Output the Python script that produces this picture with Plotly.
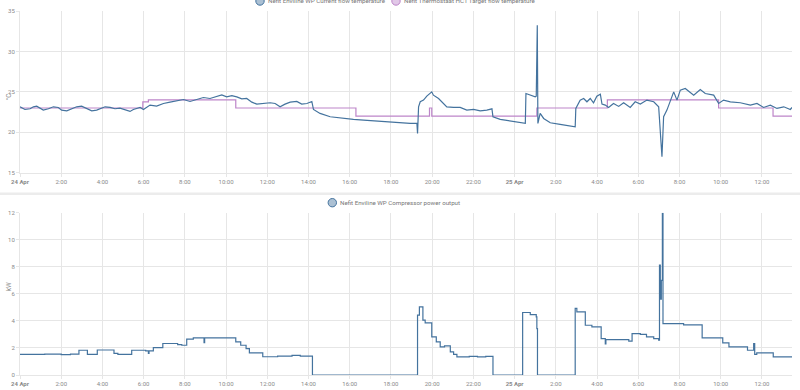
import plotly.graph_objects as go

# ---- data (hours since 24 Apr 00:00) ----
temp_hours = [0, 0.24, 0.49, 0.65, 0.81, 0.97, 1.13, 1.38, 1.62, 1.86,
              2.02, 2.27, 2.51, 2.75, 2.99, 3.24, 3.48, 3.72, 3.96, 4.13,
              4.37, 4.61, 4.85, 5.10, 5.34, 5.50, 5.66, 5.83, 5.99,
              6.31, 6.63, 6.96, 7.28, 7.61, 7.93, 8.25, 8.58, 8.90, 9.22,
              9.55, 9.79, 10.03, 10.28, 10.52, 10.76, 11.00, 11.25, 11.49, 11.81,
              12.14, 12.38, 12.62, 12.86, 13.11, 13.43, 13.67, 13.92, 14.16, 14.24,
              14.56, 15.05, 15.53, 16.18, 16.67, 17.15, 17.80, 18.28,
              18.93, 19.26, 19.29, 19.34, 19.42, 19.58, 19.74, 19.98, 20.06, 20.31,
              20.55, 20.71, 21.04, 21.36, 21.68, 22.01, 22.33, 22.65, 22.90, 22.95,
              23.30, 23.79, 24.27, 24.52, 24.55, 24.76, 25.00, 25.05, 25.10, 25.13,
              25.24, 25.41, 25.73, 26.21, 26.94, 26.97, 27.18, 27.35, 27.51, 27.67,
              27.83, 27.99, 28.16, 28.24, 28.40, 28.56, 28.80, 29.05, 29.29, 29.61,
              29.85, 30.10, 30.42, 30.75, 30.99, 31.15, 31.23, 31.39, 31.55, 31.72,
              31.88, 32.04, 32.28, 32.52, 32.69, 33.01, 33.25, 33.66, 33.90, 34.14,
              34.47, 34.95, 35.44, 35.76, 36.08, 36.41, 36.73, 37.06, 37.38, 37.46]
temp_values = [23.15, 22.82, 22.91, 23.15, 23.23, 22.95, 22.74, 22.91, 23.15, 23.07,
               22.74, 22.66, 22.91, 23.15, 23.23, 22.95, 22.66, 22.74, 22.95, 23.15,
               23.07, 22.91, 22.99, 22.74, 22.58, 22.82, 22.95, 23.07, 22.82,
               23.36, 23.23, 23.56, 23.73, 23.89, 24.05, 23.81, 24.05, 24.30, 24.18,
               24.46, 24.63, 24.38, 24.54, 24.38, 24.13, 24.18, 23.73, 23.48, 23.56,
               23.65, 23.56, 23.15, 23.48, 23.73, 23.81, 23.48, 23.56, 23.81, 22.82,
               22.33, 21.92, 21.75, 21.59, 21.51, 21.42, 21.26, 21.18,
               21.10, 21.10, 19.86, 23.15, 23.77, 23.98, 24.47, 25.00, 24.59, 24.18,
               23.56, 23.15, 23.07, 23.07, 22.74, 22.82, 22.66, 22.74, 22.90, 21.92,
               21.59, 21.38, 21.18, 21.10, 24.80, 24.59, 24.39, 24.47, 33.23, 21.10,
               22.33, 21.71, 21.18, 20.97, 20.68, 22.95, 23.98, 24.18, 23.77, 24.18,
               23.65, 24.47, 24.72, 23.50, 23.36, 23.07, 23.56, 23.20, 23.65, 23.07,
               23.77, 23.50, 23.98, 23.77, 23.15, 16.98, 21.92, 22.74, 23.77, 25.00,
               23.98, 25.21, 25.42, 25.00, 24.59, 25.29, 24.80, 24.59, 23.56, 23.98,
               23.77, 23.65, 23.36, 23.56, 23.07, 23.36, 22.95, 23.15, 22.82, 23.07]

target_hours = [0, 5.96, 6.23, 10.47, 16.30, 19.87, 19.98, 25.08, 28.50, 33.90, 36.54, 37.46]
target_values = [23.0, 23.77, 24.0, 23.0, 22.0, 23.0, 22.0, 23.0, 24.0, 23.0, 22.0, 22.0]

power_hours = [0, 1.20, 2.00, 2.45, 2.86, 3.27, 3.75, 4.56, 4.75, 5.42,
               6.10, 6.23, 6.26, 6.47, 6.93, 7.65, 7.85, 8.09, 8.41, 8.93,
               8.96, 9.19, 10.47, 10.71, 10.97, 11.13, 11.78, 12.50, 13.20, 13.60,
               14.19, 19.29, 19.38, 19.55, 19.66, 19.98, 20.20, 20.39, 20.60, 20.88,
               21.04, 21.20, 21.80, 22.20, 22.60, 22.95, 24.39, 24.76, 25.05, 25.08,
               25.11, 26.94, 27.02, 27.43, 27.75, 28.20, 28.40, 28.43, 28.90, 29.54,
               29.70, 30.10, 30.40, 30.75, 30.99, 31.03, 31.07, 31.12, 31.17, 31.20,
               32.20, 33.10, 34.10, 34.40, 35.30, 35.60, 35.65, 35.75, 36.55, 37.46]
power_values = [1.52, 1.55, 1.50, 1.55, 1.83, 1.53, 1.85, 1.60, 1.52, 1.83,
                1.78, 1.60, 1.78, 2.03, 2.33, 2.25, 2.20, 2.65, 2.74, 2.40,
                2.74, 2.74, 2.45, 2.20, 1.95, 1.63, 1.35, 1.40, 1.45, 1.40,
                0.0, 4.42, 5.04, 4.05, 3.85, 2.82, 2.45, 2.08, 2.15, 1.71,
                1.53, 1.34, 1.38, 1.34, 1.38, 0.0, 4.62, 4.47, 4.30, 3.43,
                0.0, 4.92, 4.67, 3.68, 3.56, 2.69, 2.30, 2.62, 2.62, 2.50,
                3.06, 3.00, 2.82, 2.69, 2.57, 8.13, 5.60, 7.00, 11.95, 3.80,
                3.70, 2.74, 2.37, 2.08, 1.83, 2.32, 1.53, 1.63, 1.34, 1.36]

tick_hours = list(range(0, 37, 2))
tick_labels = ["<b>24 Apr</b>", "2:00", "4:00", "6:00", "8:00", "10:00", "12:00",
               "14:00", "16:00", "18:00", "20:00", "22:00", "<b>25 Apr</b>",
               "2:00", "4:00", "6:00", "8:00", "10:00", "12:00"]

temp_name = "Nefit Enviline WP Current flow temperature"
target_name = "Nefit Thermostaat HC1 Target flow temperature"
power_name = "Nefit Enviline WP Compressor power output"

BLUE = "#44739e"
PURPLE = "#bd85c9"
GRID = "#e6e6e6"
TICKC = "#8a8a8a"
FONT = "Roboto"

W, H = 800, 390
ML, MR, MT, MB = 20, 8, 11, 15
PW, PH = W - ML - MR, H - MT - MB


def px(xp):
    return (xp - ML) / PW


def py(yp):
    return (H - MB - yp) / PH


fig = go.Figure()
fig.add_trace(go.Scatter(x=target_hours, y=target_values, mode="lines",
                         line=dict(color=PURPLE, width=1.2, shape="hv"),
                         xaxis="x", yaxis="y", showlegend=False, name=target_name))
fig.add_trace(go.Scatter(x=temp_hours, y=temp_values, mode="lines",
                         line=dict(color=BLUE, width=1.2),
                         xaxis="x", yaxis="y", showlegend=False, name=temp_name))
fig.add_trace(go.Scatter(x=power_hours, y=power_values, mode="lines",
                         line=dict(color=BLUE, width=1.2, shape="hv"),
                         xaxis="x2", yaxis="y2", showlegend=False, name=power_name))

xcommon = dict(range=[0, 37.46], tickmode="array", tickvals=tick_hours, ticktext=tick_labels,
               showgrid=True, gridcolor=GRID, gridwidth=1, zeroline=False, automargin=False,
               showline=True, linecolor=GRID, ticks="outside", ticklen=3, tickcolor=GRID,
               tickfont=dict(family=FONT, size=6, color=TICKC))
ycommon = dict(showgrid=True, gridcolor=GRID, gridwidth=1, zeroline=False, automargin=False,
               showline=True, linecolor=GRID, ticks="outside", ticklen=3, tickcolor=GRID,
               tickfont=dict(family=FONT, size=6, color=TICKC))

fig.update_layout(
    template="none",
    width=W, height=H,
    margin=dict(l=ML, r=MR, t=MT, b=MB, autoexpand=False),
    paper_bgcolor="white", plot_bgcolor="white",
    font=dict(family=FONT, color="#777"),
    showlegend=False,
    xaxis=dict(domain=[0, 1], anchor="y", **xcommon),
    yaxis=dict(domain=[py(172.7), 1], anchor="x", range=[15, 35], dtick=5, **ycommon),
    xaxis2=dict(domain=[0, 1], anchor="y2", **xcommon),
    yaxis2=dict(domain=[0, py(212.7)], anchor="x2", range=[0, 12], dtick=2, **ycommon),
)

# card separator band
fig.add_shape(type="rect", xref="paper", yref="paper", x0=px(0), x1=px(800),
              y0=py(195), y1=py(192.5), fillcolor="#ececec", line_width=0, layer="below")

# legends drawn as circles + text
def legend_item(cx, cy, color, fill, text):
    r = 4.2
    fig.add_shape(type="circle", xref="paper", yref="paper",
                  x0=px(cx - r), x1=px(cx + r), y0=py(cy + r), y1=py(cy - r),
                  fillcolor=fill, line=dict(color=color, width=1))
    fig.add_annotation(xref="paper", yref="paper", x=px(cx + 5.5), y=py(cy),
                       xanchor="left", yanchor="middle", showarrow=False,
                       text=text, font=dict(family=FONT, size=6.2, color="#777"))


legend_item(260, 1.0, BLUE, "rgba(68,115,158,0.45)", temp_name)
legend_item(396, 1.0, PURPLE, "rgba(189,133,201,0.45)", target_name)
legend_item(332.3, 202.7, BLUE, "rgba(68,115,158,0.45)", power_name)

# axis titles
fig.add_annotation(xref="paper", yref="paper", x=px(3), y=py(91.7), textangle=-90,
                   showarrow=False, text="°C", font=dict(family=FONT, size=6.5, color=TICKC))
fig.add_annotation(xref="paper", yref="paper", x=px(3), y=py(293.7), textangle=-90,
                   showarrow=False, text="kW", font=dict(family=FONT, size=6.5, color=TICKC))

fig.write_html("out.html", config={"displayModeBar": False},
               post_script="document.body.style.margin='0';document.body.style.overflow='hidden';")
